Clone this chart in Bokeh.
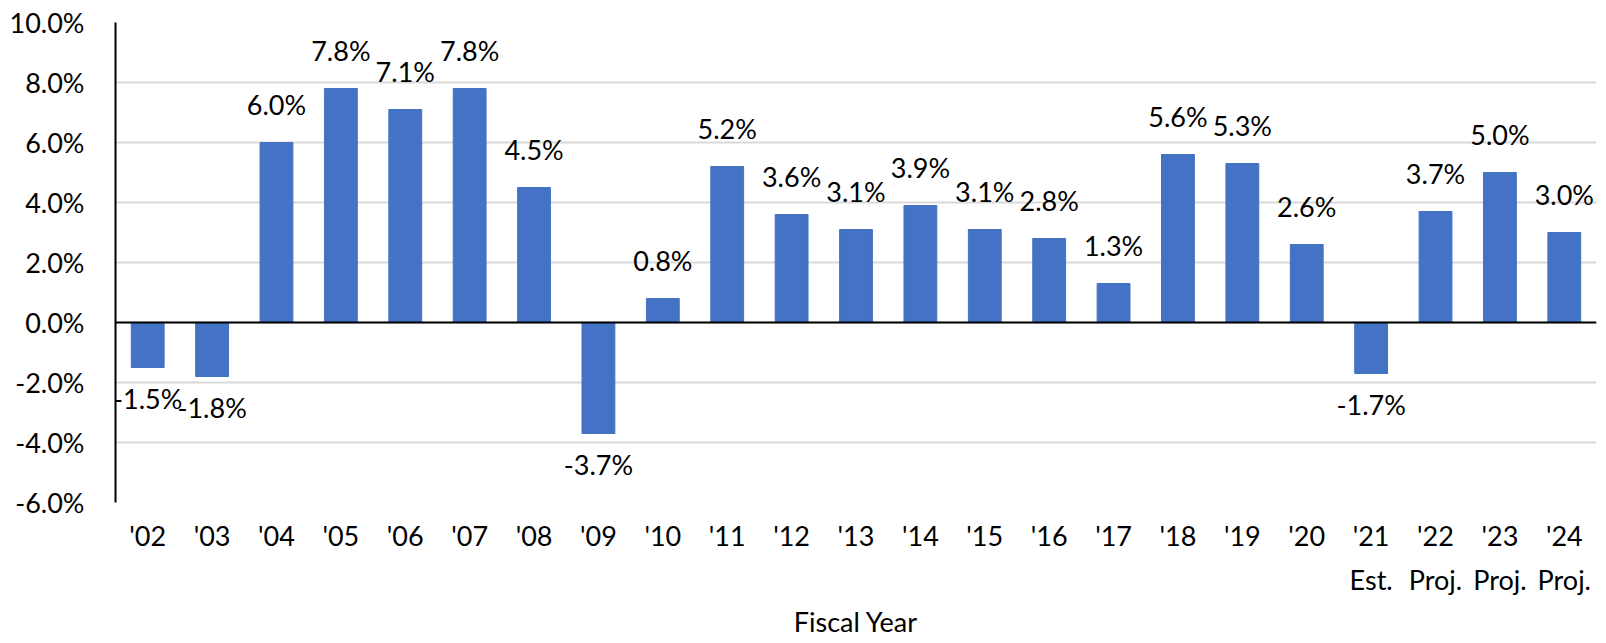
from bokeh.plotting import figure
from bokeh.models import ColumnDataSource, Range1d, Span, FixedTicker, PrintfTickFormatter
from bokeh.core.properties import value
from bokeh.embed import file_html
from bokeh.resources import INLINE

years = ["'02", "'03", "'04", "'05", "'06", "'07", "'08", "'09", "'10", "'11", "'12", "'13",
         "'14", "'15", "'16", "'17", "'18", "'19", "'20", "'21", "'22", "'23", "'24"]
growth = [-1.5, -1.8, 6.0, 7.8, 7.1, 7.8, 4.5, -3.7, 0.8, 5.2, 3.6, 3.1,
          3.9, 3.1, 2.8, 1.3, 5.6, 5.3, 2.6, -1.7, 3.7, 5.0, 3.0]
year_notes = {"'21": "Est.", "'22": "Proj.", "'23": "Proj.", "'24": "Proj."}
y_ticks = [-6, -4, -2, 0, 2, 4, 6, 8, 10]

FONT = "Lato"
FS = "27px"
BAR = "#4472C4"

idx = list(range(len(years)))

p = figure(x_range=Range1d(-0.5, len(years) - 0.5), y_range=Range1d(-6, 10),
           frame_width=1481, frame_height=480,
           min_border_left=115, min_border_right=8, min_border_top=22, min_border_bottom=138,
           output_backend="svg", toolbar_location=None, tools="")
p.outline_line_color = None
p.background_fill_color = "white"
p.border_fill_color = "white"

p.vbar(x=idx, top=growth, bottom=0, width=0.51, fill_color=BAR, line_color=BAR)

p.add_layout(Span(location=0, dimension="width", line_color="black", line_width=2))

labels = [f"{v:.1f}%" for v in growth]
pos_i = [i for i, v in zip(idx, growth) if v >= 0]
neg_i = [i for i, v in zip(idx, growth) if v < 0]
src_pos = ColumnDataSource(dict(x=pos_i, y=[growth[i] for i in pos_i], t=[labels[i] for i in pos_i]))
src_neg = ColumnDataSource(dict(x=neg_i, y=[growth[i] for i in neg_i], t=[labels[i] for i in neg_i]))
p.text(x="x", y="y", text="t", source=src_pos, text_align="center", text_baseline="alphabetic",
       y_offset=-38, text_font=value(FONT), text_font_size=FS, text_color="black")
p.text(x="x", y="y", text="t", source=src_neg, text_align="center", text_baseline="alphabetic",
       y_offset=31, text_font=value(FONT), text_font_size=FS, text_color="black")

# y axis
p.yaxis.ticker = FixedTicker(ticks=y_ticks)
p.yaxis.formatter = PrintfTickFormatter(format="%.1f%%")
p.yaxis.axis_line_color = "black"
p.yaxis.axis_line_width = 2
p.yaxis.major_tick_line_color = None
p.yaxis.minor_tick_line_color = None
p.yaxis.major_tick_out = 0
p.yaxis.major_label_standoff = 31
p.yaxis.major_label_text_font = FONT
p.yaxis.major_label_text_font_size = FS
p.yaxis.major_label_text_color = "black"

p.ygrid.ticker = FixedTicker(ticks=y_ticks)
p.ygrid.grid_line_color = "#D9D9D9"
p.ygrid.grid_line_width = 2
p.xgrid.grid_line_color = None

# x axis
p.xaxis.ticker = FixedTicker(ticks=idx)
p.xaxis.major_label_overrides = {
    i: (f"{y}\n{year_notes[y]}" if y in year_notes else y) for i, y in zip(idx, years)
}
p.xaxis.axis_line_color = None
p.xaxis.major_tick_line_color = None
p.xaxis.minor_tick_line_color = None
p.xaxis.major_tick_out = 0
p.xaxis.major_label_standoff = 16
p.xaxis.major_label_text_font = FONT
p.xaxis.major_label_text_font_size = FS
p.xaxis.major_label_text_color = "black"
p.xaxis.major_label_text_line_height = 1.35
p.xaxis.axis_label = "Fiscal Year"
p.xaxis.axis_label_text_font = FONT
p.xaxis.axis_label_text_font_size = FS
p.xaxis.axis_label_text_font_style = "normal"
p.xaxis.axis_label_text_color = "black"
p.xaxis.axis_label_standoff = 6

open("out.html", "w").write(file_html(p, INLINE))
